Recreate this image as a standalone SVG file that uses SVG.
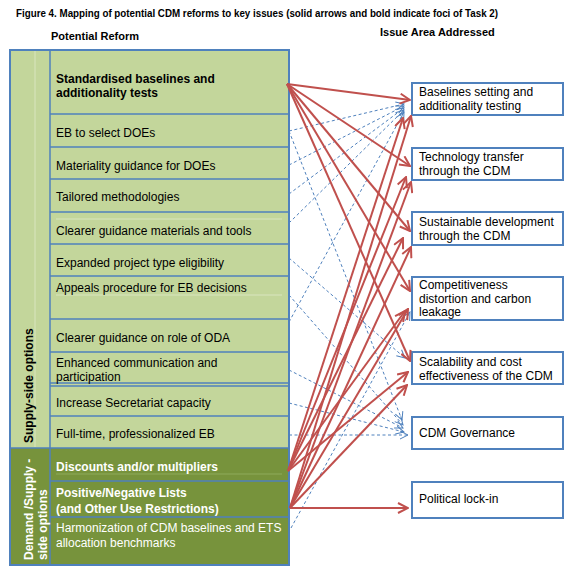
<svg xmlns="http://www.w3.org/2000/svg" width="577" height="576" viewBox="0 0 577 576">
<style>
text{font-family:"Liberation Sans",Arial,sans-serif;font-size:12px;fill:#000}
.b{font-weight:bold}
.w{fill:#fff}
.row{stroke:#4F81BD;stroke-width:1.5}
.faint{stroke:#D9E5BF;stroke-width:1}
.box{fill:#fff;stroke:#4F81BD;stroke-width:2}
.red{stroke:#C0504D;stroke-width:2;fill:none;marker-end:url(#ar)}
.blu{stroke:#4F81BD;stroke-width:1;stroke-dasharray:3 2.5;fill:none;marker-end:url(#ab)}
</style>
<defs>
<marker id="ar" markerUnits="userSpaceOnUse" viewBox="0 0 12 12" refX="11" refY="6" markerWidth="12" markerHeight="12" orient="auto">
<path d="M1,1 L11,6 L1,11" fill="none" stroke="#C0504D" stroke-width="2"/>
</marker>
<marker id="ab" markerUnits="userSpaceOnUse" viewBox="0 0 10 10" refX="9" refY="5" markerWidth="10" markerHeight="10" orient="auto">
<path d="M1,1 L9,5 L1,9" fill="none" stroke="#4F81BD" stroke-width="1"/>
</marker>
</defs>
<rect width="577" height="576" fill="#fff"/>
<text class="b" x="16" y="17" font-size="11" textLength="482" lengthAdjust="spacingAndGlyphs" style="font-size:11px">Figure 4. Mapping of potential CDM reforms to key issues (solid arrows and bold indicate foci of Task 2)</text>
<text class="b" x="51" y="40" style="font-size:11px">Potential Reform</text>
<text class="b" x="380" y="36" style="font-size:11px">Issue Area Addressed</text>

<g id="reform-table">
<rect x="10" y="50" width="279" height="398" fill="#C3D69B"/>
<rect x="10" y="448" width="279" height="117" fill="#77933C"/>
<line class="faint" x1="35" y1="51" x2="35" y2="447"/>
<line class="faint" x1="56" y1="295" x2="282" y2="295"/>
<line class="faint" x1="56" y1="219" x2="282" y2="219"/>
<line x1="56" y1="474" x2="282" y2="474" stroke="#8FAA5A" stroke-width="1"/>
<line class="row" x1="50" y1="50" x2="50" y2="565"/>
<line class="row" x1="50" y1="114" x2="289" y2="114"/>
<line class="row" x1="50" y1="147" x2="289" y2="147"/>
<line class="row" x1="50" y1="179" x2="289" y2="179"/>
<line class="row" x1="50" y1="212" x2="289" y2="212"/>
<line class="row" x1="50" y1="244" x2="289" y2="244"/>
<line class="row" x1="50" y1="276" x2="289" y2="276"/>
<line class="row" x1="50" y1="319" x2="289" y2="319"/>
<line class="row" x1="50" y1="352" x2="289" y2="352"/>
<line class="row" x1="50" y1="383" x2="289" y2="383"/>
<line class="row" x1="50" y1="386" x2="289" y2="386"/>
<line class="row" x1="50" y1="416" x2="289" y2="416"/>
<line class="row" x1="10" y1="448" x2="289" y2="448"/>
<line class="row" x1="50" y1="481" x2="289" y2="481"/>
<line class="row" x1="50" y1="517" x2="289" y2="517"/>
<rect x="10" y="50" width="279" height="515" fill="none" stroke="#4F81BD" stroke-width="2"/>
<text class="b" transform="translate(33,443) rotate(-90)">Supply-side options</text>
<text class="b w" transform="translate(33,560) rotate(-90)">Demand /Supply -</text>
<text class="b w" transform="translate(47,560) rotate(-90)">side options</text>
</g>

<g id="r1"><text class="b" x="56" y="83">Standardised baselines and</text><text class="b" x="56" y="97">additionality tests</text></g>
<g id="r2"><text x="56" y="137">EB to select DOEs</text></g>
<g id="r3"><text x="56" y="170">Materiality guidance for DOEs</text></g>
<g id="r4"><text x="56" y="201">Tailored methodologies</text></g>
<g id="r5"><text x="56" y="235">Clearer guidance materials and tools</text></g>
<g id="r6"><text x="56" y="267">Expanded project type eligibility</text></g>
<g id="r7"><text x="56" y="292">Appeals procedure for EB decisions</text></g>
<g id="r8"><text x="56" y="342">Clearer guidance on role of ODA</text></g>
<g id="r9"><text x="56" y="367">Enhanced communication and</text><text x="56" y="381">participation</text></g>
<g id="r10"><text x="56" y="407">Increase Secretariat capacity</text></g>
<g id="r11"><text x="56" y="438">Full-time, professionalized EB</text></g>
<g id="r12"><text class="b w" x="56" y="471">Discounts and/or multipliers</text></g>
<g id="r13"><text class="b w" x="56" y="497">Positive/Negative Lists</text><text class="b w" x="56" y="513">(and Other Use Restrictions)</text></g>
<g id="r14"><text class="w" x="56" y="532">Harmonization of CDM baselines and ETS</text><text class="w" x="56" y="547">allocation benchmarks</text></g>

<g id="i1"><rect class="box" x="412" y="83" width="151" height="32"/><text x="419" y="96">Baselines setting and</text><text x="419" y="110">additionality testing</text></g>
<g id="i2"><rect class="box" x="412" y="148" width="151" height="32"/><text x="419" y="161">Technology transfer</text><text x="419" y="175">through the CDM</text></g>
<g id="i3"><rect class="box" x="412" y="212" width="151" height="33"/><text x="419" y="226">Sustainable development</text><text x="419" y="240">through the CDM</text></g>
<g id="i4"><rect class="box" x="412" y="277" width="151" height="43"/><text x="419" y="289">Competitiveness</text><text x="419" y="303">distortion and carbon</text><text x="419" y="316">leakage</text></g>
<g id="i5"><rect class="box" x="412" y="352" width="151" height="32"/><text x="419" y="366">Scalability and cost</text><text x="419" y="380">effectiveness of the CDM</text></g>
<g id="i6"><rect class="box" x="412" y="417" width="151" height="32"/><text x="419" y="437">CDM Governance</text></g>
<g id="i7"><rect class="box" x="412" y="482" width="151" height="36"/><text x="419" y="503">Political lock-in</text></g>

<g id="connectors">
<line class="blu" x1="289" y1="131" x2="404" y2="104"/>
<line class="blu" x1="289" y1="131" x2="402" y2="420"/>
<line class="blu" x1="289" y1="165" x2="404" y2="106"/>
<line class="blu" x1="289" y1="194" x2="404" y2="108"/>
<line class="blu" x1="289" y1="223" x2="404" y2="110"/>
<line class="blu" x1="289" y1="258" x2="405" y2="358"/>
<line class="blu" x1="289" y1="295" x2="403" y2="425"/>
<line class="blu" x1="289" y1="322" x2="404" y2="112"/>
<line class="blu" x1="289" y1="370" x2="403" y2="428"/>
<line class="blu" x1="289" y1="403" x2="404" y2="432"/>
<line class="blu" x1="289" y1="435" x2="408" y2="435"/>
<line class="blu" x1="291" y1="528" x2="410" y2="312"/>

<line class="red" x1="287" y1="84" x2="410" y2="100"/>
<line class="red" x1="287" y1="84" x2="410" y2="166"/>
<line class="red" x1="287" y1="84" x2="410" y2="231"/>
<line class="red" x1="287" y1="84" x2="410" y2="291"/>
<line class="red" x1="287" y1="84" x2="410" y2="361"/>
<line class="red" x1="288" y1="471" x2="403" y2="118"/>
<line class="red" x1="288" y1="471" x2="406" y2="177"/>
<line class="red" x1="288" y1="471" x2="403" y2="238"/>
<line class="red" x1="288" y1="471" x2="405" y2="311"/>
<line class="red" x1="288" y1="471" x2="408" y2="372"/>
<line class="red" x1="290" y1="508" x2="411" y2="116"/>
<line class="red" x1="290" y1="508" x2="411" y2="182"/>
<line class="red" x1="290" y1="508" x2="411" y2="247"/>
<line class="red" x1="290" y1="508" x2="408" y2="309"/>
<line class="red" x1="290" y1="508" x2="407" y2="385"/>
<line class="red" x1="290" y1="508" x2="408" y2="508"/>
</g>
</svg>
